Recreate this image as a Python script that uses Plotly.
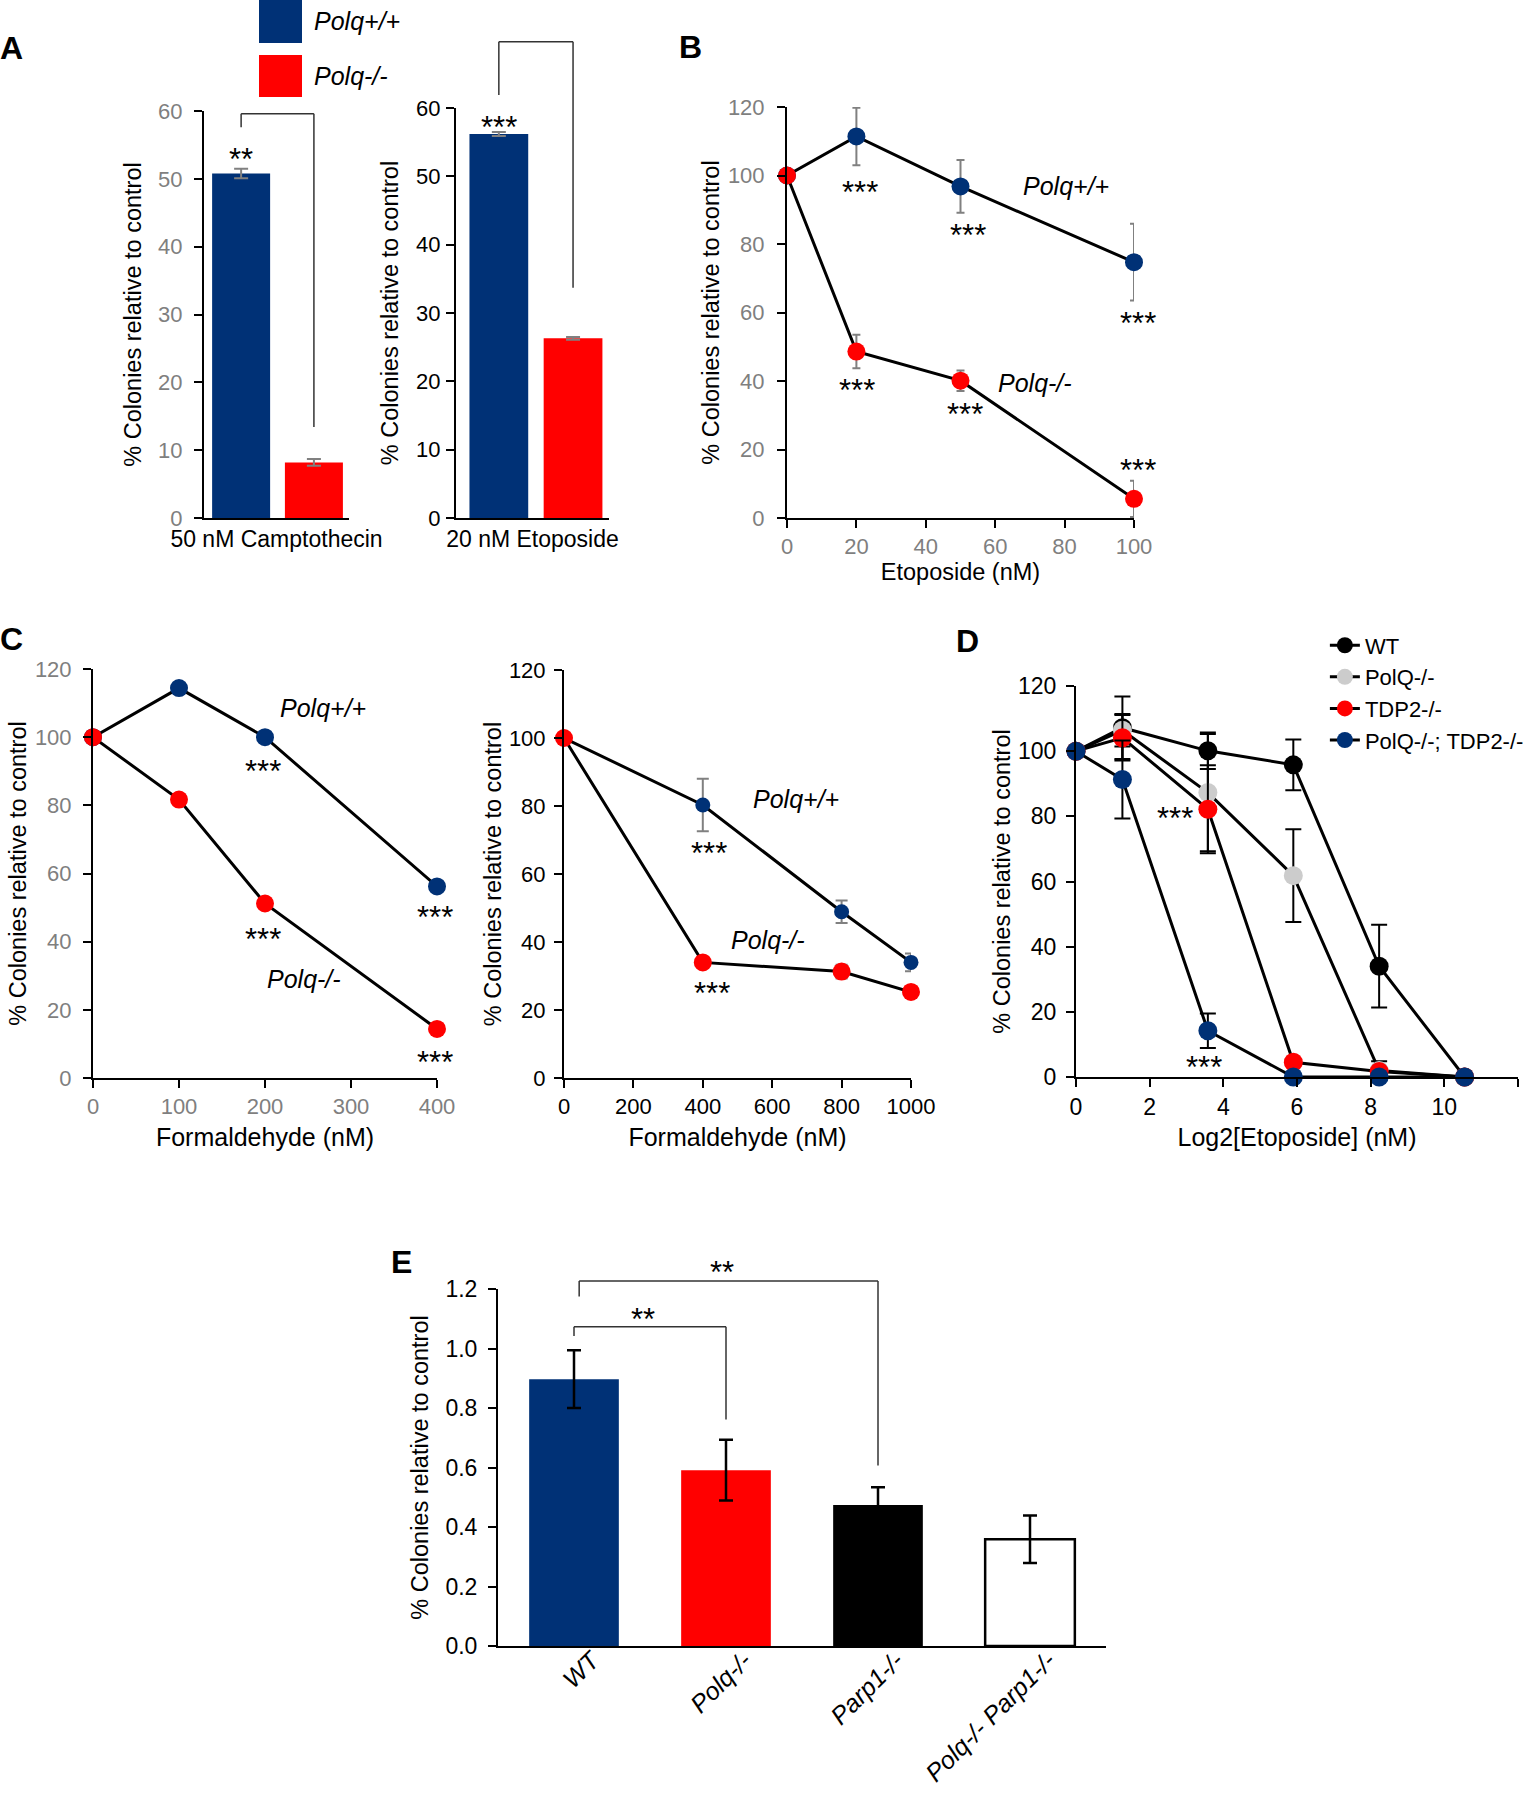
import plotly.graph_objects as go

# ---- values ----
# A: colony survival at one dose
a_groups = ["Polq+/+", "Polq-/-"]
a_cpt_label = "50 nM Camptothecin"
a_cpt_vals = [50.8, 8.2]
a_cpt_err = [0.7, 0.5]
a_eto_label = "20 nM Etoposide"
a_eto_vals = [56.2, 26.3]
a_eto_err = [0.3, 0.2]

# B: etoposide dose response
b_dose = [0, 20, 50, 100]
b_wt = [100, 111.4, 96.8, 74.7]
b_wt_err = [0, 8.4, 7.7, 11.2]
b_ko = [100, 48.6, 40.1, 5.6]
b_ko_err = [0, 4.9, 3.0, 5.3]

# C: formaldehyde, two experiments
c1_dose = [0, 100, 200, 400]
c1_wt = [100, 114.4, 100.0, 56.2]
c1_wt_err = [0, 0, 1.5, 0]
c1_ko = [100, 81.7, 51.2, 14.4]
c2_dose = [0, 400, 800, 1000]
c2_wt = [100, 80.3, 48.9, 34.0]
c2_wt_err = [0, 7.7, 3.3, 2.6]
c2_ko = [100, 34.0, 31.3, 25.3]
c2_ko_err = [0, 0, 2.0, 1.5]

# D: log2 etoposide, four genotypes
d_log2 = [0, 1.26, 3.58, 5.9, 8.23, 10.55]
d_names = ["WT", "PolQ-/-", "TDP2-/-", "PolQ-/-; TDP2-/-"]
d_wt = [100, 107.2, 100.1, 95.8, 34.0, 0]
d_wt_err = [0, 9.6, 5.6, 7.8, 12.7, 0]
d_polq = [100, 106.4, 87.3, 61.8, 2.0, 0]
d_polq_err = [0, 5.0, 18.0, 14.2, 2.8, 0]
d_tdp2 = [100, 104.1, 82.2, 4.5, 1.7, 0]
d_tdp2_err = [0, 7.0, 13.5, 0, 0, 0]
d_dko = [100, 91.3, 14.2, 0, 0, 0]
d_dko_err = [0, 12.0, 5.3, 0, 0, 0]

# E: bars
e_genotypes = ["WT", "Polq-/-", "Parp1-/-", "Polq-/- Parp1-/-"]
e_vals = [0.897, 0.591, 0.474, 0.359]
e_err = [0.097, 0.102, 0.06, 0.08]

NAVY = "#003176"
RED = "#FF0000"
GREY_TXT = "#7F7F7F"
ERR_GREY = "#808080"
FONT = "Liberation Sans, Arial, sans-serif"
YTITLE = "% Colonies relative to control"

W, H = 1529, 1800


def xd(l, r):
    return [l / W, r / W]


def yd(t, b):
    return [1 - b / H, 1 - t / H]


fig = go.Figure()

# A - bars
for lab, vals, errs, xa, ya, offs, wd in [
        (a_cpt_label, a_cpt_vals, a_cpt_err, "x", "y", [-0.444, 0.058], 0.40),
        (a_eto_label, a_eto_vals, a_eto_err, "x2", "y2", [-0.412, 0.073], 0.384)]:
    for i, col in enumerate([NAVY, RED]):
        fig.add_trace(go.Bar(
            x=[lab], y=[vals[i]], name=a_groups[i], width=wd, offset=offs[i],
            marker=dict(color=col, line=dict(width=0)),
            error_y=dict(type="data", array=[errs[i]], color=ERR_GREY, thickness=2, width=7),
            xaxis=xa, yaxis=ya, showlegend=False))


def curve(x, y, err, col, xa, ya, size=18, ecol=ERR_GREY, ew=4, name=None, legend=False):
    fig.add_trace(go.Scatter(
        x=x, y=y, mode="lines+markers", name=name, showlegend=legend,
        line=dict(color="black", width=3),
        marker=dict(color=col, size=size),
        error_y=dict(type="data", array=err, color=ecol, thickness=2, width=ew),
        cliponaxis=False, xaxis=xa, yaxis=ya))


# B
curve(b_dose, b_wt, b_wt_err, NAVY, "x3", "y3")
curve(b_dose, b_ko, b_ko_err, RED, "x3", "y3")
# C
curve(c1_dose, c1_wt, c1_wt_err, NAVY, "x4", "y4", ew=6)
curve(c1_dose, c1_ko, [0] * 4, RED, "x4", "y4")
curve(c2_dose, c2_wt, c2_wt_err, NAVY, "x5", "y5", size=15, ew=6)
curve(c2_dose, c2_ko, c2_ko_err, RED, "x5", "y5", ew=6)
# D
for ys, es, col, nm in zip([d_wt, d_polq, d_tdp2, d_dko],
                           [d_wt_err, d_polq_err, d_tdp2_err, d_dko_err],
                           ["black", "#CCCCCC", RED, NAVY], d_names):
    curve(d_log2, ys, es, col, "x6", "y6", size=19, ecol="black", ew=8, name=nm, legend=True)

# E
fig.add_trace(go.Bar(
    x=e_genotypes, y=e_vals, width=0.59,
    marker=dict(color=[NAVY, RED, "black", "white"],
                line=dict(color="black", width=[0, 0, 0, 2.5])),
    error_y=dict(type="data", array=e_err, color="black", thickness=2.5, width=7),
    xaxis="x7", yaxis="y7", showlegend=False))

base = dict(showline=True, linecolor="black", linewidth=2, ticks="outside", ticklen=8,
            tickwidth=2, tickcolor="black", showgrid=False, zeroline=False)
ytitle = lambda so: dict(text=YTITLE, font=dict(size=23.5), standoff=so)

fig.update_layout(
    width=W, height=H, margin=dict(l=0, r=0, t=0, b=0, autoexpand=False),
    paper_bgcolor="white", plot_bgcolor="white",
    font=dict(family=FONT, color="black", size=22),
    barmode="overlay",
    xaxis=dict(base, domain=xd(204, 349), anchor="y", type="category", range=[-0.5, 0.5],
               ticks="", tickfont=dict(size=23), ticklabelstandoff=-1),
    yaxis=dict(base, domain=yd(111, 518), anchor="x", range=[0, 60], dtick=10, ticklabelstandoff=7,
               tickfont=dict(color=GREY_TXT, size=22), title=ytitle(10)),
    xaxis2=dict(base, domain=xd(456, 609), anchor="y2", type="category", range=[-0.5, 0.5],
                ticks="", tickfont=dict(size=23), ticklabelstandoff=-1),
    yaxis2=dict(base, domain=yd(108, 518), anchor="x2", range=[0, 60], dtick=10, ticklabelstandoff=1,
                tickfont=dict(size=22), title=ytitle(11)),
    xaxis3=dict(base, domain=xd(787, 1134), anchor="y3", range=[0, 100], dtick=20,
                tickfont=dict(color=GREY_TXT, size=22),
                title=dict(text="Etoposide (nM)", font=dict(size=23.5), standoff=1)),
    yaxis3=dict(base, domain=yd(107, 518), anchor="x3", range=[0, 120], dtick=20, ticklabelstandoff=8,
                tickfont=dict(color=GREY_TXT, size=22), title=ytitle(2)),
    xaxis4=dict(base, domain=xd(93, 437), anchor="y4", range=[0, 400], dtick=100,
                tickfont=dict(color=GREY_TXT, size=22),
                title=dict(text="Formaldehyde (nM)", font=dict(size=25), standoff=10)),
    yaxis4=dict(base, domain=yd(669, 1078), anchor="x4", range=[0, 120], dtick=20, ticklabelstandoff=7,
                tickfont=dict(color=GREY_TXT, size=22), title=ytitle(2)),
    xaxis5=dict(base, domain=xd(564, 911), anchor="y5", range=[0, 1000], dtick=200,
                tickfont=dict(size=22),
                title=dict(text="Formaldehyde (nM)", font=dict(size=25), standoff=10)),
    yaxis5=dict(base, domain=yd(670, 1078), anchor="x5", range=[0, 120], dtick=20, ticklabelstandoff=4,
                tickfont=dict(size=22), title=ytitle(1)),
    xaxis6=dict(base, domain=xd(1076, 1518), anchor="y6", range=[0, 12], dtick=2,
                tickfont=dict(size=23),
                title=dict(text="Log2[Etoposide] (nM)", font=dict(size=25), standoff=10)),
    yaxis6=dict(base, domain=yd(686, 1077), anchor="x6", range=[0, 120], dtick=20, ticklabelstandoff=5,
                tickfont=dict(size=23), title=ytitle(1)),
    xaxis7=dict(base, domain=xd(498, 1106), anchor="y7", type="category", range=[-0.5, 3.5],
                ticks="", tickangle=-45, tickfont=dict(size=25, style="italic"),
                ticklabelshift=18, ticklabelstandoff=-12),
    yaxis7=dict(base, domain=yd(1289, 1646), anchor="x7", range=[0, 1.2], dtick=0.2,
                ticklabelstandoff=6, tickformat=".1f", tickfont=dict(size=23), title=ytitle(10)),
    legend=dict(x=0.8665, y=0.6531, xanchor="left", yanchor="top", font=dict(size=22),
                bgcolor="rgba(0,0,0,0)", tracegroupgap=0),
)

ann = []
shapes = []

# panel letters
for t, px, py in [("A", 11.5, 48), ("B", 690, 46.5), ("C", 11, 639), ("D", 967.5, 641), ("E", 401.5, 1262)]:
    ann.append(dict(text="<b>%s</b>" % t, x=px / W, y=1 - py / H, xref="paper", yref="paper",
                    xanchor="center", yanchor="middle", showarrow=False, font=dict(size=32)))

# legend of panel A
for i, col in enumerate([NAVY, RED]):
    top, bot = [(0, 43), (55, 97)][i]
    shapes.append(dict(type="rect", xref="paper", yref="paper", x0=259 / W, x1=302 / W,
                       y0=1 - bot / H, y1=1 - top / H, fillcolor=col, line=dict(width=0)))
    ann.append(dict(text=a_groups[i], x=312 / W, y=1 - (top + bot) / 2 / H, xref="paper", yref="paper",
                    xanchor="left", yanchor="middle", showarrow=False,
                    font=dict(size=25, style="italic")))


def star(txt, x, y, xa, ya, xs=0, ys=0):
    ann.append(dict(text=txt, x=x, y=y, xref=xa, yref=ya, showarrow=False, xanchor="center",
                    yanchor="middle", xshift=xs, yshift=ys - 6, font=dict(size=31)))


def label(txt, x, y, xa, ya):
    ann.append(dict(text=txt, x=x, y=y, xref=xa, yref=ya, showarrow=False, xanchor="center",
                    yanchor="middle", font=dict(size=25, style="italic")))


def bracket(xa, ya, xl, xr, yl, ytop, yr, top):
    for x0, y0, x1, y1 in [(xl, yl, xl, ytop), (xl, ytop, xr, ytop), (xr, ytop, xr, yr)]:
        shapes.append(dict(type="line", xref=xa, yref=ya + " domain", x0=x0, x1=x1,
                           y0=y0 / top, y1=y1 / top, line=dict(color="#333333", width=1.5)))


# A
star("**", -0.244, 53.7, "x", "y")
star("***", -0.22, 58.0, "x2", "y2")
bracket("x", "y", -0.244, 0.258, 57.6, 59.6, 13.4, 60)
bracket("x2", "y2", -0.22, 0.265, 61.9, 69.7, 33.7, 60)

# B
for x, y, xs in [(20.9, 96.8, 0), (52.2, 84.1, 0), (100, 58.5, 4), (20.3, 38.9, 0), (51.3, 32.0, 0), (100, 15.7, 4)]:
    star("***", x, y, "x3", "y3", xs=xs)
label(a_groups[0], 80.4, 96.8, "x3", "y3")
label(a_groups[1], 71.5, 39.3, "x3", "y3")

# C
for x, y in [(197.7, 91.7), (397.7, 48.8), (198, 42.5), (398, 6.3)]:
    star("***", x, y, "x4", "y4")
label(a_groups[0], 268, 108.7, "x4", "y4")
label(a_groups[1], 245, 28.9, "x4", "y4")
for x, y in [(417.5, 67.7), (427, 26.6)]:
    star("***", x, y, "x5", "y5")
label(a_groups[0], 670, 82, "x5", "y5")
label(a_groups[1], 588, 40.5, "x5", "y5")

# D
star("***", 2.69, 81.1, "x6", "y6")
star("***", 3.48, 4.8, "x6", "y6")

# E
bracket("x7", "y7", 0, 1, 1.042, 1.073, 0.761, 1.2)
bracket("x7", "y7", 0.034, 2, 1.175, 1.227, 0.607, 1.2)
star("**", 0.457, 1.116, "x7", "y7")
star("**", 0.973, 1.2, "x7", "y7", ys=23)

fig.update_layout(annotations=ann, shapes=shapes)
# page body margin would shift the figure by 8px
fig.write_html("out.html", config={"displayModeBar": False},
               post_script="document.body.style.margin='0';")
